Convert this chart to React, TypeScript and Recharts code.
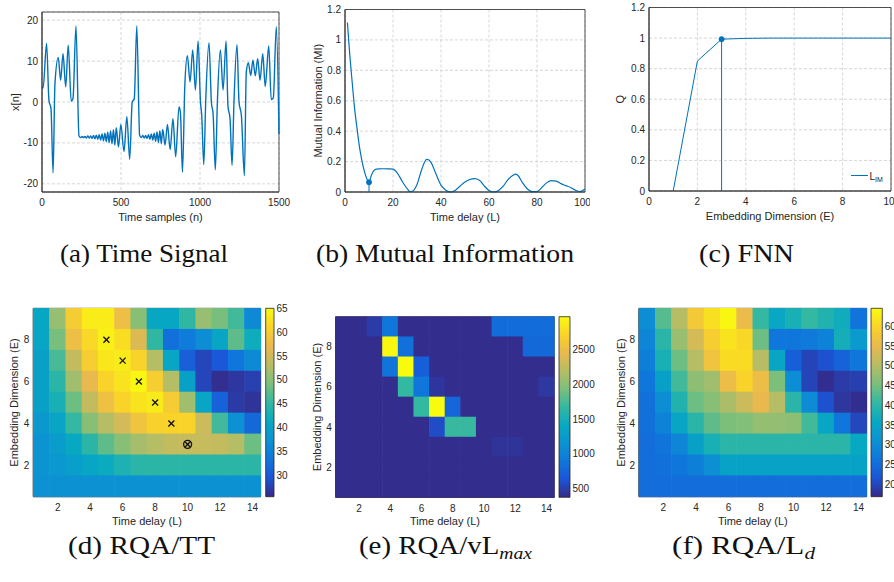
import React from 'react';
import {
  LineChart, Line, XAxis, YAxis, CartesianGrid, ReferenceLine, ReferenceDot,
  ScatterChart, Scatter, ReferenceArea, Legend,
} from 'recharts';

const BLUE = '#0072BD';
const INK = '#262626';
const GRID = '#d6d6d6';
const SANS = '"Liberation Sans", Arial, sans-serif';
const SERIF = '"Liberation Serif", "Times New Roman", serif';

// (a) time signal: turning points
const signalT = [
  0, 7, 29, 44, 57, 70, 82, 103, 118, 133, 150, 166, 185, 196, 215, 234,
  245, 254, 263, 272, 281, 290, 299, 308, 317, 326, 335, 344, 353, 362, 371, 380,
  389, 398, 407, 416, 425, 434, 443, 452, 461, 470, 484, 499, 519, 537, 555, 571,
  584, 600, 618, 629, 638, 647, 656, 665, 674, 683, 692, 701, 710, 719, 728, 737,
  746, 755, 764, 779, 794, 811, 829, 846, 867, 876, 889, 904, 920, 937, 954, 971,
  988, 1003, 1011, 1024, 1036, 1057, 1072, 1083, 1097, 1110, 1129, 1146, 1165, 1177, 1190, 1203,
  1215, 1234, 1247, 1262, 1281, 1293, 1306, 1321, 1335, 1350, 1365, 1380, 1397, 1413, 1435, 1451,
  1464, 1483, 1500,
];
const signalX = [
  3.8, 3.4, 14.3, 0.4, -1.6, -17.3, 4.5, 10.9, 5.3, 11.8, 3.7, 13.9, 0.2, 0.8, 18.6, -8.3,
  -8.7, -8.4, -8.7, -8.4, -8.8, -8.3, -8.8, -8.3, -8.9, -8.2, -9.0, -8.1, -9.1, -8.0, -9.3, -7.8,
  -9.5, -7.6, -9.7, -7.4, -9.9, -7.1, -10.2, -6.8, -10.5, -6.3, -11.0, -5.5, -12.1, -3.6, -14.0, 0.0,
  0.8, 18.6, -8.2, -8.7, -8.2, -8.8, -8.2, -8.9, -8.0, -9.1, -7.8, -9.3, -7.6, -9.6, -7.3, -9.9,
  -7.0, -10.2, -6.7, -10.5, -5.5, -11.6, -4.1, -13.4, -1.2, -2.5, -17.2, 4.1, 11.3, 4.9, 12.7, 2.9,
  14.9, 0.0, -3.3, -15.3, 0.0, 14.5, 0.0, -3.0, -16.6, 0.0, 12.7, 2.9, 14.9, -1.0, -4.0, -15.5,
  0.0, 14.0, 0.0, -3.3, -18.0, 7.3, 9.6, 6.5, 10.2, 6.4, 10.6, 5.3, 11.8, 3.8, 13.7, 0.6,
  1.0, 18.4, -7.8,
];

// (b) mutual information vs delay
const miLag = [
  1, 2, 3, 4, 5, 6, 7, 8, 9, 10, 11, 12, 13, 14, 16, 18, 20, 21, 22, 24, 26, 27, 28, 30, 32,
  34, 35, 36, 38, 40, 42, 44, 46, 48, 50, 52, 54, 56, 58, 60, 62, 64, 66, 68, 70, 71, 72, 74,
  76, 78, 80, 82, 84, 86, 88, 90, 92, 94, 96, 98, 100,
];
const miValue = [
  1.115, 0.9, 0.72, 0.55, 0.42, 0.3, 0.21, 0.14, 0.09, 0.064, 0.11, 0.14, 0.15, 0.152, 0.153,
  0.152, 0.15, 0.14, 0.12, 0.066, 0.02, 0.003, 0.005, 0.05, 0.15, 0.215, 0.21, 0.19, 0.115,
  0.045, 0.012, 0.0, 0.012, 0.04, 0.065, 0.082, 0.088, 0.078, 0.04, 0.01, 0.0, 0.01, 0.04,
  0.083, 0.11, 0.118, 0.11, 0.06, 0.02, 0.003, 0.003, 0.03, 0.06, 0.075, 0.072, 0.055, 0.042,
  0.03, 0.012, 0.003, 0.02,
];
const miFirstMin = { lag: 10, value: 0.064 };

// (c) false nearest neighbours
const fnnDim = [1, 2, 3, 4, 5, 6, 7, 8, 9, 10];
const fnnQ = [0, 0.85, 0.993, 0.998, 1, 1, 1, 1, 1, 1];
const fnnPick = { dim: 3, q: 0.993 };

// heatmap axes
const delays = [1, 2, 3, 4, 5, 6, 7, 8, 9, 10, 11, 12, 13, 14];
const dims = [9, 8, 7, 6, 5, 4, 3, 2, 1]; // grid rows, top to bottom

// (d) RQA / TT
const ttGrid = [
  [41, 51, 60, 63.5, 63.5, 58, 50, 41, 41, 45, 51, 49, 46, 36],
  [40.5, 49, 58, 61.5, 64, 62, 56, 45, 32.6, 34, 36.5, 40.5, 47.6, 42],
  [39.7, 46.4, 54, 60.3, 63, 63.4, 61, 53, 40.5, 30.6, 28, 29.8, 33.4, 36],
  [39.7, 44.5, 51.6, 57, 61, 62.6, 64.6, 60.3, 53, 39.7, 28, 26, 26.7, 27.5],
  [39.7, 43, 48.4, 54, 58.3, 61, 62.6, 63.4, 60, 51.6, 40.5, 31, 27, 26.3],
  [38.5, 40.5, 45.3, 50, 53, 55.5, 58.7, 60.7, 61, 61, 54.7, 46, 37, 31.8],
  [37.4, 39, 41.3, 44.5, 47.6, 50, 52, 53, 54, 54.3, 54.3, 54, 53, 48.4],
  [37.4, 38, 39.3, 40.5, 41.7, 43.3, 44.5, 44.5, 44.5, 44.5, 44.5, 44.5, 44.5, 44.5],
  [37, 37, 37, 37, 37, 37, 37, 37, 37, 37, 37, 37, 37, 37],
];
const ttRange = [25.5, 65];
const ttTicks = [30, 35, 40, 45, 50, 55, 60, 65];
const ttPicks = [
  { x: 5, y: 8 }, { x: 6, y: 7 }, { x: 7, y: 6 }, { x: 8, y: 5 }, { x: 9, y: 4 },
];
const ttBest = [{ x: 10, y: 3 }];

// (e) RQA / vLmax
const vlGrid = [
  [400, 400, 480, 895, 400, 400, 400, 400, 400, 400, 820, 820, 820, 820],
  [400, 400, 400, 2950, 840, 400, 400, 400, 400, 400, 400, 400, 790, 790],
  [400, 400, 400, 870, 2968, 715, 400, 400, 400, 400, 400, 400, 400, 400],
  [400, 400, 400, 400, 1673, 895, 450, 400, 400, 400, 400, 400, 400, 460],
  [400, 400, 400, 400, 400, 1673, 2968, 765, 400, 400, 400, 400, 400, 400],
  [400, 400, 400, 400, 400, 400, 585, 1690, 1690, 400, 400, 400, 400, 400],
  [400, 400, 400, 400, 400, 400, 400, 400, 400, 400, 430, 430, 400, 400],
  [400, 400, 400, 400, 400, 400, 400, 400, 400, 400, 400, 400, 400, 400],
  [400, 400, 400, 400, 400, 400, 400, 400, 400, 400, 400, 400, 400, 400],
];
const vlRange = [377, 2968];
const vlTicks = [500, 1000, 1500, 2000, 2500];

// (f) RQA / Ld
const ldGrid = [
  [30.2, 43, 50.3, 58, 61.3, 64.1, 55.5, 40.7, 35.4, 37.8, 40.7, 38.8, 36.9, 25.9],
  [28.7, 39.7, 47.9, 53.1, 58.9, 61.7, 60.3, 44.5, 26.4, 26.4, 26.8, 28.3, 37.4, 32.6],
  [27.8, 37.8, 44.5, 50.3, 57, 60.8, 60.8, 50.3, 35, 23, 19.7, 21.1, 23.5, 26.4],
  [26.4, 34, 41.7, 46.9, 48.4, 56, 59.8, 56, 45.5, 30.2, 19.7, 17.3, 18.7, 19.2],
  [25.4, 30.2, 38.8, 44.5, 46.4, 49.3, 52.2, 55, 50.3, 39.7, 29.7, 21.1, 18.2, 17.3],
  [25.4, 28.3, 35, 39.7, 43.6, 45.5, 46, 47.4, 47.4, 46.9, 41.7, 35, 26.4, 20.1],
  [24.9, 25.9, 28.7, 34, 37.8, 39.7, 39.7, 39.7, 39.7, 39.7, 39.7, 39.7, 39.7, 35.9],
  [24.9, 25.4, 26.4, 27.8, 30.7, 34.5, 34.5, 34.5, 34.5, 34.5, 34.5, 34.5, 34.5, 34.5],
  [24.9, 24.9, 24.9, 24.9, 24.9, 24.9, 24.9, 24.9, 24.9, 24.9, 24.9, 24.9, 24.9, 24.9],
];
const ldRange = [16.8, 64.6];
const ldTicks = [20, 25, 30, 35, 40, 45, 50, 55, 60];

// parula, sampled every tenth
const PARULA = ['#352a87', '#1b55d7', '#0f77db', '#0c93d2', '#07a9c2', '#33b8a1', '#7cbf7b', '#b7bd64', '#e9b94e', '#f9d32a', '#f9fb0e'];
const rgb = (h: string) => [1, 3, 5].map((i) => parseInt(h.slice(i, i + 2), 16));
function parula(f: number) {
  const p = Math.min(Math.max(f, 0), 1) * (PARULA.length - 1);
  const i = Math.min(Math.floor(p), PARULA.length - 2);
  const a = rgb(PARULA[i]);
  const b = rgb(PARULA[i + 1]);
  const k = p - i;
  return `rgb(${a.map((c, j) => Math.round(c + (b[j] - c) * k)).join(',')})`;
}

const tickStyle = { fill: INK, fontSize: 10 };
const frame = { stroke: INK, strokeWidth: 0.8 };

const yTitle = (value: string, x: number) => (props: any) => {
  const vb = props.viewBox || { y: 0, height: 0 };
  const cy = vb.y + vb.height / 2;
  return (
    <text x={x} y={cy} transform={`rotate(-90, ${x}, ${cy})`} textAnchor="middle"
      dominantBaseline="central" fill={INK} fontSize={11}>{value}</text>
  );
};

const xTitle = (value: string, offset: number) => ({
  value, position: 'insideBottom' as const, offset, fill: INK, fontSize: 11,
});

// MATLAB style box round the axes
const box = (x: number[], y: number[]) => (
  <ReferenceArea x1={x[0]} x2={x[1]} y1={y[0]} y2={y[1]} fill="none" stroke={INK}
    strokeWidth={0.8} ifOverflow="visible" />
);

const toCells = (grid: number[][]) =>
  grid.flatMap((row, r) => row.map((v, c) => ({ x: delays[c], y: dims[r], v })));

interface HeatProps {
  grid: number[][];
  range: number[];
  left: number;
  top: number;
  width: number;
  height: number;
  mTop: number;
  mRight: number;
  yWidth: number;
  xHeight: number;
  yTitleX: number;
  children?: React.ReactNode;
}

function HeatPanel({ grid, range, left, top, width, height, mTop, mRight, yWidth, xHeight, yTitleX, children }: HeatProps) {
  const cw = (width - mRight - yWidth) / delays.length;
  const ch = (height - mTop - xHeight) / dims.length;
  const cell = (p: any) => (
    <rect x={p.cx - cw / 2 - 0.3} y={p.cy - ch / 2 - 0.3} width={cw + 0.6} height={ch + 0.6}
      fill={parula((p.payload.v - range[0]) / (range[1] - range[0]))} />
  );
  return (
    <div style={{ position: 'absolute', left, top }}>
      <ScatterChart width={width} height={height} margin={{ top: mTop, right: mRight, bottom: 0, left: 0 }}>
        <XAxis dataKey="x" type="number" domain={[0.5, 14.5]} ticks={[2, 4, 6, 8, 10, 12, 14]}
          height={xHeight} tickLine={false} tickSize={0} tickMargin={7.5} axisLine={frame}
          tick={tickStyle} label={xTitle('Time delay (L)', 15)} />
        <YAxis dataKey="y" type="number" domain={[0.5, 9.5]} ticks={[2, 4, 6, 8]} width={yWidth}
          tickLine={false} tickSize={0} tickMargin={4} axisLine={frame} tick={tickStyle}
          label={yTitle('Embedding Dimension (E)', yTitleX)} />
        <Scatter data={toCells(grid)} shape={cell} isAnimationActive={false} />
        {children}
        {box([0.5, 14.5], [0.5, 9.5])}
      </ScatterChart>
    </div>
  );
}

interface BarProps {
  id: string;
  range: number[];
  ticks: number[];
  left: number;
  top: number;
  width: number;
  mTop: number;
  mBottom: number;
  mLeft: number;
  yWidth: number;
}

function ColorBar({ id, range, ticks, left, top, width, mTop, mBottom, mLeft, yWidth }: BarProps) {
  const ends = [{ x: 0.5, y: range[0] }, { x: 0.5, y: range[1] }];
  return (
    <div style={{ position: 'absolute', left, top }}>
      <ScatterChart width={width} height={250} margin={{ top: mTop, bottom: mBottom, left: mLeft, right: 0 }}>
        <defs>
          <linearGradient id={id} x1="0" y1="1" x2="0" y2="0">
            {PARULA.map((c, i) => <stop key={c} offset={i / (PARULA.length - 1)} stopColor={c} />)}
          </linearGradient>
        </defs>
        <XAxis dataKey="x" type="number" domain={[0, 1]} hide />
        <YAxis dataKey="y" orientation="right" type="number" domain={range} ticks={ticks} width={yWidth}
          tickLine={false} tickSize={0} tickMargin={2.5} axisLine={false} tick={tickStyle} />
        <Scatter data={ends} shape={() => <g />} isAnimationActive={false} />
        <ReferenceArea x1={0} x2={1} y1={range[0]} y2={range[1]} fill={`url(#${id})`} fillOpacity={1}
          stroke={INK} strokeWidth={0.8} />
      </ScatterChart>
    </div>
  );
}

const crossShape = (p: any) => (
  <g stroke="#111" strokeWidth={1.3}>
    <line x1={p.cx - 3} y1={p.cy - 3} x2={p.cx + 3} y2={p.cy + 3} />
    <line x1={p.cx - 3} y1={p.cy + 3} x2={p.cx + 3} y2={p.cy - 3} />
  </g>
);

const otimesShape = (p: any) => (
  <g stroke="#111" strokeWidth={1.3} fill="none">
    <circle cx={p.cx} cy={p.cy} r={4} />
    <line x1={p.cx - 2.6} y1={p.cy - 2.6} x2={p.cx + 2.6} y2={p.cy + 2.6} />
    <line x1={p.cx - 2.6} y1={p.cy + 2.6} x2={p.cx + 2.6} y2={p.cy - 2.6} />
  </g>
);

const fnnLegend = () => (
  <svg width={44} height={20}>
    <line x1={3} y1={9.5} x2={20} y2={9.5} stroke={BLUE} strokeWidth={1} />
    <text x={21.5} y={13.5} fontSize={10} fill={INK}>L<tspan fontSize={7} dy={2.5}>IM</tspan></text>
  </svg>
);

const captions = [
  { x: 144, y: 262, w: 168, main: '(a) Time Signal', sub: '' },
  { x: 445, y: 262, w: 258, main: '(b) Mutual Information', sub: '' },
  { x: 746.5, y: 262, w: 95, main: '(c) FNN', sub: '' },
  { x: 141.5, y: 554, w: 147, main: '(d) RQA/TT', sub: '' },
  { x: 445.5, y: 554, w: 173, main: '(e) RQA/vL', sub: 'max' },
  { x: 743.5, y: 554, w: 143, main: '(f) RQA/L', sub: 'd' },
];

export default function App() {
  const signalData = signalT.map((t, i) => ({ t, x: signalX[i] }));
  const miData = miLag.map((lag, i) => ({ lag, mi: miValue[i] }));
  const fnnData = fnnDim.map((dim, i) => ({ dim, q: fnnQ[i] }));

  return (
    <div style={{ position: 'absolute', left: 0, top: 0, width: 894, height: 582, background: '#fff', overflow: 'hidden', fontFamily: SANS }}>
      {/* (a) */}
      <div style={{ position: 'absolute', left: 0, top: 0 }}>
        <LineChart width={290} height={226} data={signalData} margin={{ top: 12, right: 11, bottom: 0, left: 0 }}>
          <CartesianGrid stroke={GRID} strokeDasharray="3 2" />
          <XAxis dataKey="t" type="number" domain={[0, 1500]} ticks={[0, 500, 1000, 1500]} height={34}
            tickLine={false} tickSize={0} tickMargin={6.5} axisLine={frame} tick={tickStyle}
            label={xTitle('Time samples (n)', 5)} />
          <YAxis type="number" domain={[-22, 22]} ticks={[-20, -10, 0, 10, 20]} width={42}
            tickLine={false} tickSize={0} tickMargin={4} axisLine={frame} tick={tickStyle}
            label={yTitle('x[n]', 15)} />
          {box([0, 1500], [-22, 22])}
          <Line dataKey="x" type="monotone" stroke={BLUE} strokeWidth={1.4} dot={false} isAnimationActive={false} />
        </LineChart>
      </div>

      {/* (b) */}
      <div style={{ position: 'absolute', left: 300, top: 0 }}>
        <LineChart width={290} height={226} data={miData} margin={{ top: 9.5, right: 5, bottom: 0, left: 0 }}>
          <CartesianGrid stroke={GRID} strokeDasharray="3 2" />
          <XAxis dataKey="lag" type="number" domain={[0, 100]} ticks={[0, 20, 40, 60, 80, 100]} height={34}
            tickLine={false} tickSize={0} tickMargin={6.5} axisLine={frame} tick={tickStyle}
            label={xTitle('Time delay (L)', 5)} />
          <YAxis type="number" domain={[0, 1.2]} ticks={[0, 0.2, 0.4, 0.6, 0.8, 1, 1.2]} width={45}
            tickLine={false} tickSize={0} tickMargin={4} axisLine={frame} tick={tickStyle}
            label={yTitle('Mutual Information (MI)', 18)} />
          {box([0, 100], [0, 1.2])}
          <Line dataKey="mi" type="monotone" stroke={BLUE} strokeWidth={1.2} dot={false} isAnimationActive={false} />
          <ReferenceLine segment={[{ x: miFirstMin.lag, y: 0 }, { x: miFirstMin.lag, y: miFirstMin.value }]} stroke={BLUE} strokeWidth={1} />
          <ReferenceDot x={miFirstMin.lag} y={miFirstMin.value} r={2.5} fill={BLUE} stroke={BLUE} />
        </LineChart>
      </div>

      {/* (c) */}
      <div style={{ position: 'absolute', left: 590, top: 0 }}>
        <LineChart width={304} height={226} data={fnnData} margin={{ top: 7.5, right: 3, bottom: 0, left: 0 }}>
          <CartesianGrid stroke={GRID} strokeDasharray="3 2" />
          <XAxis dataKey="dim" type="number" domain={[0, 10]} ticks={[0, 2, 4, 6, 8, 10]} height={35}
            tickLine={false} tickSize={0} tickMargin={6.5} axisLine={frame} tick={tickStyle}
            label={xTitle('Embedding Dimension (E)', 6)} />
          <YAxis type="number" domain={[0, 1.2]} ticks={[0, 0.2, 0.4, 0.6, 0.8, 1, 1.2]} width={59}
            tickLine={false} tickSize={0} tickMargin={4} axisLine={frame} tick={tickStyle}
            label={yTitle('Q', 30)} />
          {box([0, 10], [0, 1.2])}
          <Line dataKey="q" name="LIM" type="linear" stroke={BLUE} strokeWidth={1} dot={false} isAnimationActive={false} />
          <ReferenceLine segment={[{ x: fnnPick.dim, y: 0 }, { x: fnnPick.dim, y: fnnPick.q }]} stroke={BLUE} strokeWidth={1} />
          <ReferenceDot x={fnnPick.dim} y={fnnPick.q} r={2.5} fill={BLUE} stroke={BLUE} />
          <Legend layout="horizontal" align="center" verticalAlign="middle" content={fnnLegend}
            wrapperStyle={{ position: 'absolute', left: 258, top: 166, width: 44, height: 20 }} />
        </LineChart>
      </div>

      {/* (d) */}
      <HeatPanel grid={ttGrid} range={ttRange} left={0} top={290} width={262} height={250}
        mTop={18.3} mRight={1.3} yWidth={33.3} xHeight={43.3} yTitleX={14}>
        <Scatter data={ttPicks} shape={crossShape} isAnimationActive={false} />
        <Scatter data={ttBest} shape={otimesShape} isAnimationActive={false} />
      </HeatPanel>
      <ColorBar id="cb-tt" range={ttRange} ticks={ttTicks} left={262} top={290} width={40}
        mTop={18.3} mBottom={43.3} mLeft={3.7} yWidth={28} />

      {/* (e) */}
      <HeatPanel grid={vlGrid} range={vlRange} left={300} top={290} width={256} height={250}
        mTop={26.7} mRight={1.7} yWidth={35.7} xHeight={42.7} yTitleX={17} />
      <ColorBar id="cb-vl" range={vlRange} ticks={vlTicks} left={556} top={290} width={42}
        mTop={26.7} mBottom={42.7} mLeft={3} yWidth={28} />

      {/* (f) */}
      <HeatPanel grid={ldGrid} range={ldRange} left={600} top={290} width={268} height={250}
        mTop={18.3} mRight={1.3} yWidth={39} xHeight={43.3} yTitleX={21} />
      <ColorBar id="cb-ld" range={ldRange} ticks={ldTicks} left={868} top={290} width={26}
        mTop={18.3} mBottom={43.3} mLeft={3} yWidth={11.7} />

      <svg width={894} height={582} style={{ position: 'absolute', left: 0, top: 0, pointerEvents: 'none' }}>
        {captions.map((c) => (
          <text key={c.main} x={c.x} y={c.y} textAnchor="middle" fontFamily={SERIF} fontSize={25}
            fill="#111" textLength={c.w} lengthAdjust="spacingAndGlyphs">
            {c.main}
            {c.sub && <tspan fontSize={17} fontStyle="italic" dy={5}>{c.sub}</tspan>}
          </text>
        ))}
      </svg>
    </div>
  );
}
